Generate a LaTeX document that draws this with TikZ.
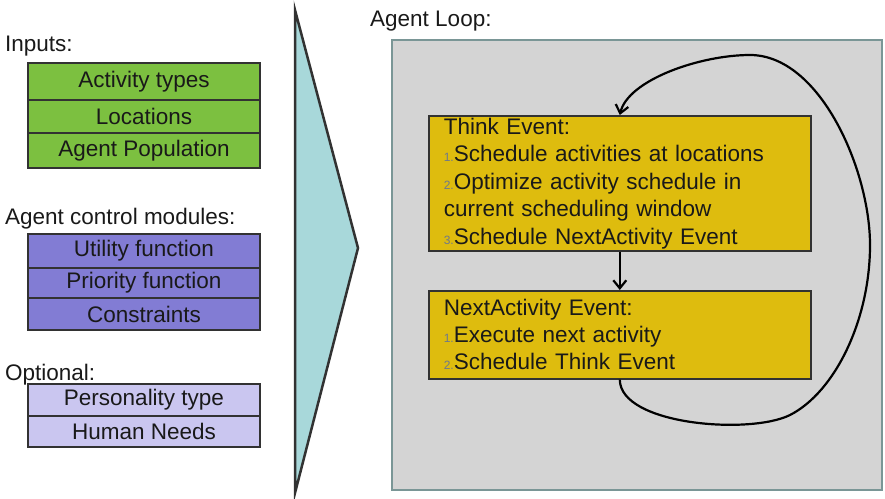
\documentclass[tikz,border=0pt]{standalone}
\usepackage{fontspec}
\setmainfont{Liberation Sans}
\usetikzlibrary{arrows.meta}
\definecolor{ingreen}{RGB}{124,192,64}
\definecolor{ctrlpurple}{RGB}{130,124,212}
\definecolor{optpurple}{RGB}{202,198,240}
\definecolor{evgold}{RGB}{222,188,14}
\definecolor{loopgray}{RGB}{212,212,212}
\definecolor{loopedge}{RGB}{122,150,150}
\definecolor{trifill}{RGB}{168,216,218}
\definecolor{edgedark}{RGB}{50,50,50}
\definecolor{numc}{RGB}{110,120,140}
\definecolor{txt}{RGB}{25,25,25}
\newcommand{\nm}[1]{\textcolor{numc}{\fontsize{12}{12}\selectfont #1}}
\begin{document}
\begin{tikzpicture}[x=1pt,y=-1pt,
  every node/.style={text=txt},
  cell/.style={draw=edgedark,line width=1.8pt,minimum width=232pt,inner sep=0pt,
    font=\fontsize{22.5}{26}\selectfont},
  lbl/.style={anchor=west,inner sep=0pt,font=\fontsize{22.5}{26}\selectfont},
  evbox/.style={draw=edgedark,line width=1.6pt,fill=evgold,anchor=north west,
    minimum width=382pt,inner xsep=15pt,inner ysep=0pt,text width=352pt,align=left,
    font=\fontsize{22.5}{27.5}\selectfont},
  arr/.style={line width=2.2pt,-{Straight Barb[length=8pt,width=13pt,line width=2.2pt]}}
]
\useasboundingbox (0,0) rectangle (885,498);
% left labels
\node[lbl] (linputs) at (5,46) {Inputs:};
\node[lbl] (lctrl) at (5,219) {Agent control modules:};
\node[lbl] (lopt) at (5,375) {Optional:};
% inputs
\node[cell,fill=ingreen,minimum height=37pt] (act) at (144,81.5) {Activity types};
\node[cell,fill=ingreen,minimum height=33pt] (loc) at (144,116.5) {Locations};
\node[cell,fill=ingreen,minimum height=35pt] (pop) at (144,150.5) {Agent Population};
% control modules
\node[cell,fill=ctrlpurple,minimum height=34pt] (util) at (144,251) {Utility function};
\node[cell,fill=ctrlpurple,minimum height=30pt] (prio) at (144,283) {Priority function};
\node[cell,fill=ctrlpurple,minimum height=32pt] (cons) at (144,314) {Constraints};
% optional
\node[cell,fill=optpurple,minimum height=32pt] (pers) at (144,400) {Personality type};
\node[cell,fill=optpurple,minimum height=31pt] (needs) at (144,431.5) {Human Needs};
% big triangle arrow
\draw[draw=edgedark,line width=2.5pt,fill=trifill,line join=miter] (295,10) -- (358,248) -- (295,493) -- cycle;
% agent loop
\node[lbl] (lloop) at (370,21) {Agent Loop:};
\draw[draw=loopedge,line width=2.2pt,fill=loopgray] (392,40) rectangle (882,490);
\node[evbox,minimum height=135pt] (think) at (428,115) {Think Event:\\
\nm{1.}Schedule activities at locations\\
\nm{2.}Optimize activity schedule in\\
current scheduling window\\
\nm{3.}Schedule NextActivity Event};
\node[evbox,minimum height=88pt,font=\fontsize{22.5}{27}\selectfont] (next) at (428,290) {NextActivity Event:\\
\nm{1.}Execute next activity\\
\nm{2.}Schedule Think Event};
\draw[arr] (think.south) -- (next.north);
\draw[arr] (next.south) .. controls (620,425) and (750,435) .. (790,415)
  .. controls (835,392) and (870,320) .. (870,245)
  .. controls (870,170) and (820,55) .. (750,55)
  .. controls (700,55) and (628,80) .. (think.north);
\end{tikzpicture}
\end{document}
